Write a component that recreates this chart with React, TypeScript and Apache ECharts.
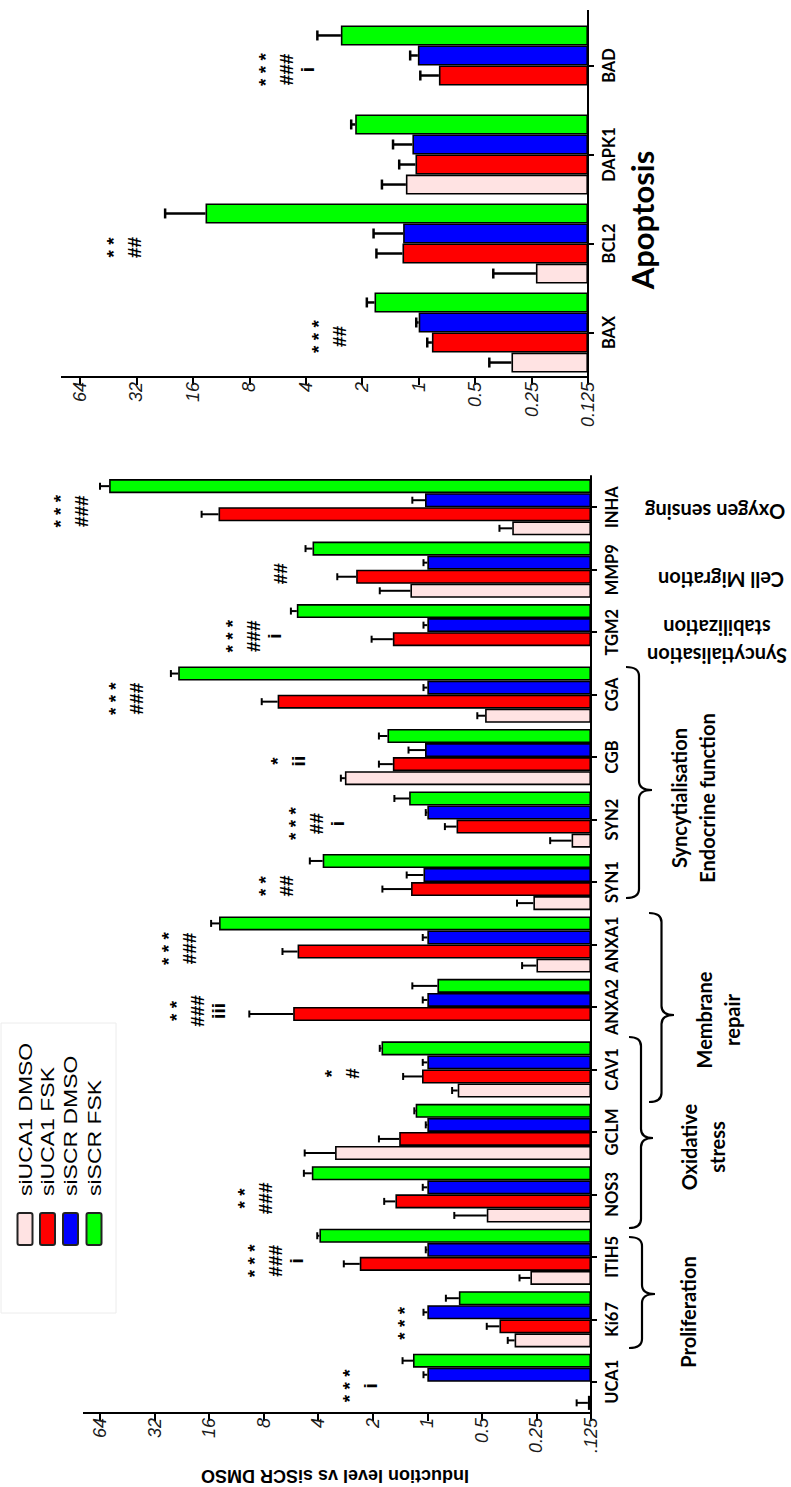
import React, { useEffect, useRef } from 'react';
import * as echarts from 'echarts';

// ---------- DATA ----------
const categories = ['UCA1', 'Ki67', 'ITIH5', 'NOS3', 'GCLM', 'CAV1', 'ANXA2', 'ANXA1', 'SYN1', 'SYN2', 'CGB', 'CGA', 'TGM2', 'MMP9', 'INHA'];
const seriesNames = ['siUCA1 DMSO', 'siUCA1 FSK', 'siSCR DMSO', 'siSCR FSK'];
const seriesColors = ['#FFE3E3', '#FF0000', '#0000FF', '#00FF00'];

const uca1Dmso = [0.13, 0.33, 0.27, 0.47, 3.23, 0.68, null, 0.25, 0.26, 0.16, 2.85, 0.48, null, 1.24, 0.34];
const uca1DmsoErr = [0.15, 0.36, 0.31, 0.71, 4.75, 0.73, null, 0.3, 0.32, 0.21, 3.0, 0.53, null, 1.83, 0.4];
const uca1Fsk = [null, 0.4, 2.36, 1.5, 1.43, 1.07, 5.5, 5.2, 1.23, 0.69, 1.55, 6.7, 1.55, 2.47, 14.2];
const uca1FskErr = [null, 0.47, 2.89, 1.73, 1.85, 1.36, 9.6, 6.3, 1.77, 0.8, 1.85, 8.2, 2.03, 3.14, 17.6];
const scrDmso = [1, 1, 1, 1, 1, 1, 1, 1, 1.05, 1, 1.03, 1, 1, 1, 1.03];
const scrDmsoErr = [1.05, 1.05, 1.02, 1.06, 1.02, 1.06, 1.06, 1.06, 1.3, 1.02, 1.27, 1.05, 1.05, 1.05, 1.21];
const scrFsk = [1.2, 0.67, 3.94, 4.34, 1.16, 1.79, 0.88, 14.1, 3.78, 1.26, 1.66, 23.7, 5.25, 4.3, 57];
const scrFskErr = [1.37, 0.79, 4.05, 4.8, 1.18, 1.83, 1.21, 15.6, 4.45, 1.52, 1.85, 26, 5.66, 4.7, 64];

const apoCategories = ['BAX', 'BCL2', 'DAPK1', 'BAD'];
const apoUca1Dmso = [0.32, 0.237, 1.17, null];
const apoUca1DmsoErr = [0.42, 0.4, 1.57, null];
const apoUca1Fsk = [0.85, 1.22, 1.04, 0.78];
const apoUca1FskErr = [0.9, 1.68, 1.27, 0.98];
const apoScrDmso = [1.0, 1.21, 1.08, 1.01];
const apoScrDmsoErr = [1.03, 1.74, 1.37, 1.11];
const apoScrFsk = [1.72, 13.7, 2.18, 2.6];
const apoScrFskErr = [1.89, 22.5, 2.29, 3.47];

const annotCats = ['UCA1', 'Ki67', 'ITIH5', 'NOS3', 'CAV1', 'ANXA2', 'ANXA1', 'SYN1', 'SYN2', 'CGB', 'CGA', 'TGM2', 'MMP9', 'INHA'];
const annotTexts = ['* * *\ni', '* * *', '* * *\n###\ni', '* *\n###', '*\n#', '* *\n###\niii', '* * *\n###', '* *\n##', '* * *\n##\ni', '*\nii', '* * *\n###', '* * *\n###\ni', '##', '* * *\n###'];
const annotAt = [2.35, 1.34, 6.9, 8.9, 2.95, 18.6, 23.6, 6.8, 4.1, 5.9, 45.8, 9.1, 6.5, 92];

const apoAnnotCats = ['BAX', 'BCL2', 'BAD'];
const apoAnnotTexts = ['* * *\n##', '* *\n##', '* * *\n###\ni'];
const apoAnnotAt = [3.0, 37.5, 5.06];

const bigTickLabels = ['.125', '0.25', '0.5', '1', '2', '4', '8', '16', '32', '64'];
const apoTickLabels = ['0.125', '0.25', '0.5', '1', '2', '4', '8', '16', '32', '64'];

const yAxisTitle = 'Induction level vs siSCR DMSO';
const apoTitle = 'Apoptosis';

// ---------- LAYOUT ----------
const APO = { left: 80, top: 21, width: 508, height: 356 };
const BIG = { left: 100, top: 476, width: 491, height: 937 };
const DISPLAY = [3, 2, 1, 0]; // series drawn top-to-bottom inside each band
const GAP = 0.1;

const FONT_ANN = 'bold 19px "Liberation Sans"';
const FONT_GROUP = 'bold 20px Lato';

function tickFormatter(labels: string[]) {
  return (v: number) => {
    const i = Math.round(Math.log2(v) + 3);
    return labels[i] ?? '';
  };
}

function errData(vals: (number | null)[][], errs: (number | null)[][]) {
  const out: number[][] = [];
  DISPLAY.forEach((s, k) => {
    vals[s].forEach((v, i) => {
      const e = errs[s][i];
      if (v != null && e != null) out.push([v, i, e, k]);
    });
  });
  return out;
}

function errRender(capHalf: number, lw: number) {
  return (params: any, api: any) => {
    const v = api.value(0);
    const c = api.value(1);
    const e = api.value(2);
    const k = api.value(3);
    const band = api.size([1, 1], [1, c])[1];
    const total = band * (1 - GAP);
    const bw = total / 4;
    const off = -total / 2 + (k + 0.5) * bw;
    const p0 = api.coord([v, c]);
    const p1 = api.coord([e, c]);
    const y = p0[1] + off;
    const st = { stroke: '#000', lineWidth: lw };
    return {
      type: 'group',
      children: [
        { type: 'line', shape: { x1: p0[0], y1: y, x2: p1[0], y2: y }, style: st },
        { type: 'line', shape: { x1: p1[0], y1: y - capHalf, x2: p1[0], y2: y + capHalf }, style: st },
      ],
    };
  };
}

function annotRender(texts: string[]) {
  return (params: any, api: any) => {
    const p = api.coord([api.value(0), api.value(1)]);
    return {
      type: 'text',
      x: p[0],
      y: p[1] + 4,
      rotation: Math.PI / 2,
      style: {
        text: texts[params.dataIndex],
        font: FONT_ANN,
        fill: '#000',
        align: 'center',
        verticalAlign: 'middle',
        textAlign: 'center',
        textVerticalAlign: 'middle',
        lineHeight: 21,
      },
    };
  };
}

function txt(text: string, x: number, y: number, rotation: number, font: string, align = 'center', lineHeight = 28, scaleY = 1) {
  return {
    type: 'text',
    x,
    y,
    rotation,
    scaleY,
    style: { text, font, fill: '#000', align, verticalAlign: 'middle', textAlign: align, textVerticalAlign: 'middle', lineHeight },
  };
}

function brace(xb: number, y0: number, y1: number, ym: number, depth: number) {
  const xm = xb + depth / 2;
  const xt = xb + depth;
  const r = 9;
  const st = { stroke: '#000', lineWidth: 2.2, fill: 'none' };
  return [
    { type: 'bezierCurve', shape: { x1: xb, y1: y0, cpx1: xm, cpy1: y0, x2: xm, y2: y0 + r }, style: st },
    { type: 'line', shape: { x1: xm, y1: y0 + r, x2: xm, y2: ym - r }, style: st },
    { type: 'bezierCurve', shape: { x1: xm, y1: ym - r, cpx1: xm, cpy1: ym, x2: xt, y2: ym }, style: st },
    { type: 'bezierCurve', shape: { x1: xm, y1: ym + r, cpx1: xm, cpy1: ym, x2: xt, y2: ym }, style: st },
    { type: 'line', shape: { x1: xm, y1: ym + r, x2: xm, y2: y1 - r }, style: st },
    { type: 'bezierCurve', shape: { x1: xm, y1: y1 - r, cpx1: xm, cpy1: y1, x2: xb, y2: y1 }, style: st },
  ];
}

function valueAxis(gridIndex: number, labels: string[]) {
  return {
    type: 'log',
    logBase: 2,
    gridIndex,
    min: 0.125,
    max: 64,
    splitNumber: 9,
    startValue: 0.125,
    inverse: true,
    position: 'bottom',
    axisLine: { show: true, onZero: false, lineStyle: { color: '#000', width: 2 } },
    axisTick: { show: true, length: 8, lineStyle: { color: '#000', width: 2 } },
    minorTick: { show: false },
    splitLine: { show: false },
    axisLabel: {
      rotate: 90,
      margin: 5,
      color: '#1a1a1a',
      fontFamily: 'Liberation Sans',
      fontStyle: 'italic',
      fontSize: 18,
      formatter: tickFormatter(labels),
    },
  };
}

function catAxis(gridIndex: number, data: string[]) {
  return {
    type: 'category',
    gridIndex,
    data,
    position: 'right',
    axisLine: { show: true, onZero: false, lineStyle: { color: '#000', width: 2 } },
    axisTick: { show: true, alignWithLabel: true, interval: 0, length: 6, lineStyle: { color: '#000', width: 2 } },
    splitLine: { show: false },
    axisLabel: {
      rotate: 90,
      interval: 0,
      hideOverlap: false,
      margin: 12,
      color: '#000',
      fontFamily: 'Lato',
      fontWeight: 'bold',
      fontSize: 16.5,
    },
  };
}

function barSeries(axisIndex: number, vals: (number | null)[][]) {
  return DISPLAY.map((s) => ({
    type: 'bar',
    name: seriesNames[s],
    xAxisIndex: axisIndex,
    yAxisIndex: axisIndex,
    data: vals[s],
    barGap: '0%',
    barCategoryGap: GAP * 100 + '%',
    itemStyle: { color: seriesColors[s], borderColor: '#000', borderWidth: 1.6 },
    silent: true,
  }));
}

function buildOption() {
  const bigVals = [uca1Dmso, uca1Fsk, scrDmso, scrFsk];
  const bigErrs = [uca1DmsoErr, uca1FskErr, scrDmsoErr, scrFskErr];
  const apoVals = [apoUca1Dmso, apoUca1Fsk, apoScrDmso, apoScrFsk];
  const apoErrs = [apoUca1DmsoErr, apoUca1FskErr, apoScrDmsoErr, apoScrFskErr];

  const legendX = [25, 47.5, 70.5, 94];
  const graphics: any[] = [];
  const st2 = { stroke: '#000', lineWidth: 2 };
  graphics.push({ type: 'line', shape: { x1: 83, y1: BIG.top + BIG.height, x2: BIG.left, y2: BIG.top + BIG.height }, style: st2 });
  graphics.push({ type: 'line', shape: { x1: 61, y1: APO.top + APO.height, x2: APO.left, y2: APO.top + APO.height }, style: st2 });
  graphics.push({ type: 'line', shape: { x1: APO.left + APO.width, y1: 10, x2: APO.left + APO.width, y2: APO.top }, style: st2 });

  graphics.push(txt(yAxisTitle, 335, 1476, Math.PI, 'bold 18px "Liberation Sans"'));
  graphics.push(txt(apoTitle, 642, 220, Math.PI / 2, 'bold 31px Lato'));

  graphics.push({ type: 'rect', shape: { x: 1, y: 1023, width: 115, height: 290 }, style: { fill: 'none', stroke: '#ececec', lineWidth: 1 } });
  seriesNames.forEach((n, i) => {
    graphics.push({
      type: 'rect',
      shape: { x: legendX[i] - 7.5, y: 1213, width: 15, height: 32, r: 2 },
      style: { fill: seriesColors[i], stroke: '#222', lineWidth: 2 },
    });
    graphics.push(txt(n, legendX[i], 1196, Math.PI / 2, '23px "Liberation Sans"', 'left', 28, 0.82));
  });

  graphics.push(...brace(629, 1237, 1348, 1294, 26));
  graphics.push(txt('Proliferation', 688, 1312, Math.PI / 2, FONT_GROUP));
  graphics.push(...brace(629, 1037, 1228, 1138, 24));
  graphics.push(txt('Oxidative\nstress', 703, 1147, Math.PI / 2, FONT_GROUP));
  graphics.push(...brace(649, 913, 1102, 1015, 25));
  graphics.push(txt('Membrane\nrepair', 718, 1020, Math.PI / 2, FONT_GROUP));
  graphics.push(...brace(626, 667, 898, 790, 26));
  graphics.push(txt('Syncytialisation\nEndocrine function', 693, 798, Math.PI / 2, FONT_GROUP));
  graphics.push(txt('Syncytialisation\nstabilization', 717, 642, Math.PI, FONT_GROUP));
  graphics.push(txt('Cell Migration', 721, 580, Math.PI, FONT_GROUP));
  graphics.push(txt('Oxygen sensing', 715, 512, Math.PI, FONT_GROUP));

  return {
    animation: false,
    backgroundColor: '#fff',
    grid: [
      { ...APO, outerBoundsMode: 'none', containLabel: false },
      { ...BIG, outerBoundsMode: 'none', containLabel: false },
    ],
    xAxis: [valueAxis(0, apoTickLabels), valueAxis(1, bigTickLabels)],
    yAxis: [catAxis(0, apoCategories), catAxis(1, categories)],
    series: [
      ...barSeries(0, apoVals),
      ...barSeries(1, bigVals),
      {
        type: 'custom',
        xAxisIndex: 0,
        yAxisIndex: 0,
        data: errData(apoVals, apoErrs),
        encode: { x: 0, y: 1 },
        renderItem: errRender(5, 2.5),
        silent: true,
        z: 3,
      },
      {
        type: 'custom',
        xAxisIndex: 1,
        yAxisIndex: 1,
        data: errData(bigVals, bigErrs),
        encode: { x: 0, y: 1 },
        renderItem: errRender(3.5, 2),
        silent: true,
        z: 3,
      },
      {
        type: 'custom',
        xAxisIndex: 0,
        yAxisIndex: 0,
        data: apoAnnotCats.map((c, i) => [apoAnnotAt[i], apoCategories.indexOf(c)]),
        encode: { x: 0, y: 1 },
        renderItem: annotRender(apoAnnotTexts),
        silent: true,
        z: 4,
      },
      {
        type: 'custom',
        xAxisIndex: 1,
        yAxisIndex: 1,
        data: annotCats.map((c, i) => [annotAt[i], categories.indexOf(c)]),
        encode: { x: 0, y: 1 },
        renderItem: annotRender(annotTexts),
        silent: true,
        z: 4,
      },
    ],
    graphic: graphics,
  };
}

export default function App() {
  const ref = useRef<HTMLDivElement>(null);
  useEffect(() => {
    document.body.style.margin = '0';
    const chart = echarts.init(ref.current!, null, { renderer: 'svg' });
    chart.setOption(buildOption() as any);
    return () => chart.dispose();
  }, []);
  return <div ref={ref} style={{ width: 791, height: 1487 }} />;
}
